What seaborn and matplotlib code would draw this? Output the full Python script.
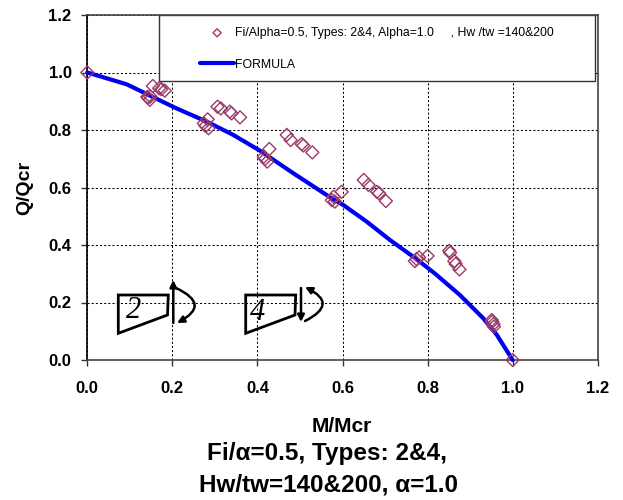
import numpy as np
import pandas as pd
import matplotlib
matplotlib.use('Agg')
import matplotlib.pyplot as plt
from matplotlib.patches import FancyArrowPatch, Polygon, Rectangle
import seaborn as sns

# test points
m_test = [0.0,
          0.143, 0.147, 0.141, 0.148, 0.154, 0.169, 0.174, 0.182,
          0.274, 0.278, 0.285, 0.283, 0.306, 0.314, 0.335, 0.339, 0.359,
          0.415, 0.423, 0.418, 0.428, 0.469, 0.478, 0.504, 0.508, 0.529,
          0.579, 0.575, 0.582, 0.598, 0.650, 0.661, 0.681, 0.686, 0.702,
          0.774, 0.770, 0.780, 0.800, 0.851, 0.853, 0.863, 0.866, 0.875,
          0.952, 0.955, 0.951, 0.956, 1.0]
q_test = [1.0,
          0.912, 0.905, 0.915, 0.917, 0.953, 0.945, 0.942, 0.937,
          0.823, 0.814, 0.806, 0.837, 0.881, 0.875, 0.864, 0.858, 0.844,
          0.707, 0.690, 0.699, 0.734, 0.783, 0.765, 0.751, 0.746, 0.722,
          0.568, 0.556, 0.551, 0.585, 0.626, 0.609, 0.585, 0.580, 0.553,
          0.351, 0.344, 0.357, 0.362, 0.380, 0.373, 0.344, 0.334, 0.315,
          0.133, 0.125, 0.139, 0.116, 0.0]

m_formula = [0.0, 0.0926, 0.144, 0.21, 0.281, 0.343, 0.406, 0.485, 0.575, 0.602,
             0.657, 0.712, 0.774, 0.817, 0.876, 0.931, 0.963, 1.0]
q_formula = [1.0, 0.959, 0.922, 0.875, 0.829, 0.783, 0.728, 0.649, 0.562, 0.539,
             0.481, 0.417, 0.351, 0.301, 0.226, 0.145, 0.087, 0.0]

ticks = [0.0, 0.2, 0.4, 0.6, 0.8, 1.0, 1.2]
test_label = 'Fi/Alpha=0.5, Types: 2&4, Alpha=1.0     , Hw /tw =140&200'
formula_label = 'FORMULA'

sns.set_theme(style="ticks")
plt.rcParams['font.family'] = ['Liberation Sans', 'DejaVu Sans']
plt.rcParams['text.color'] = 'black'
plt.rcParams['axes.labelcolor'] = 'black'
plt.rcParams['xtick.labelcolor'] = 'black'
plt.rcParams['ytick.labelcolor'] = 'black'

W, H = 623, 500
fig = plt.figure(figsize=(W / 100, H / 100), dpi=100)
ax = fig.add_axes([87.3 / W, 1 - 360 / H, 510.4 / W, 345 / H])

test = pd.DataFrame({'m': m_test, 'q': q_test})
formula = pd.DataFrame({'m': m_formula, 'q': q_formula})
sns.lineplot(data=formula, x='m', y='q', ax=ax, color='#0000f0', linewidth=3,
             sort=False, estimator=None, label=formula_label, zorder=3, clip_on=False)
sns.scatterplot(data=test, x='m', y='q', ax=ax, marker='D', s=44, facecolor='none',
                edgecolor='#9c3a6a', linewidth=1.0, label=test_label, zorder=4, clip_on=False)

ax.set_xlim(0, 1.2)
ax.set_ylim(0, 1.2)
ax.set_xticks(ticks)
ax.set_yticks(ticks)
ax.set_xticklabels(['%.1f' % t for t in ticks], fontweight='bold', fontsize=12)
ax.set_yticklabels(['%.1f' % t for t in ticks], fontweight='bold', fontsize=12)
ax.tick_params(length=4.3, width=1, color='#333333')
ax.tick_params(axis='x', pad=11)
ax.tick_params(axis='y', pad=7)
ax.grid(True, color='black', linestyle=(0, (2, 2)), linewidth=0.75)
ax.set_axisbelow(True)
for side in ['top', 'right', 'bottom']:
    ax.spines[side].set_color('#444444')
    ax.spines[side].set_linewidth(1.2)
ax.spines['left'].set_color('black')
ax.spines['left'].set_linewidth(1.2)
ax.set_xlabel('M/Mcr', fontweight='bold', fontsize=15, va='baseline')
ax.set_ylabel('Q/Qcr', fontweight='bold', fontsize=14)
ax.xaxis.set_label_coords((342 - 87.3) / 510.4, (360 - 432) / 345)
ax.yaxis.set_label_coords((33 - 87.3) / 510.4, 0.5)


def px(x, y):
    return (x - 87.3) / 425.33, (360 - y) / 287.5


# legend box is drawn by hand so the entries can sit well inside it
x0, y0 = px(159, 81)
x1, y1 = px(595, 15)
ax.add_patch(Rectangle((x0, y0), x1 - x0, y1 - y0, facecolor='white', edgecolor='#333333',
                       linewidth=1.0, zorder=2.5))
handles, labels = ax.get_legend_handles_labels()
leg = ax.legend(handles[::-1], labels[::-1], loc='upper left',
                bbox_to_anchor=((200 - 87.3) / 510.4, 1 - 12 / 345), borderaxespad=0,
                borderpad=0, fontsize=8.8, frameon=False, markerscale=0.62,
                handlelength=2.8, handletextpad=0.1, labelspacing=1.6)
leg.set_zorder(7)

# section sketches, placed in picture pixels
for pts in ([(118.3, 295), (168.3, 295), (167.5, 315), (118.3, 333.3)],
            [(245.7, 295), (295.7, 295), (295, 315), (245.7, 333.3)]):
    ax.add_patch(Polygon([px(*p) for p in pts], closed=True, fill=False,
                         edgecolor='black', linewidth=2, zorder=5, joinstyle='miter'))

serif = ['Liberation Serif', 'DejaVu Serif']
ax.text(*px(134, 311), '2', family=serif, style='italic', fontsize=22, ha='center', va='center', zorder=6)
ax.text(*px(258, 313), '4', family=serif, style='italic', fontsize=22, ha='center', va='center', zorder=6)

arrows = [((173.3, 323), (173.3, 280), 0.0),
          ((176, 288), (177, 323), -1.0),
          ((301, 288), (301, 322), 0.0),
          ((305, 321), (305, 287), 1.0)]
for start, end, rad in arrows:
    ax.add_patch(FancyArrowPatch(px(*start), px(*end), arrowstyle='-|>', mutation_scale=10,
                                 connectionstyle='arc3,rad=%s' % rad, color='black',
                                 linewidth=1.8, shrinkA=0, shrinkB=0, zorder=6))

fig.text(326.7 / W, 1 - 460 / H, 'Fi/\u03b1=0.5, Types: 2&4,', ha='center', va='baseline',
         fontweight='bold', fontsize=17.5)
fig.text(328.5 / W, 1 - 491.7 / H, 'Hw/tw=140&200, \u03b1=1.0', ha='center', va='baseline',
         fontweight='bold', fontsize=17.5)

fig.savefig('out.png', dpi=100)
